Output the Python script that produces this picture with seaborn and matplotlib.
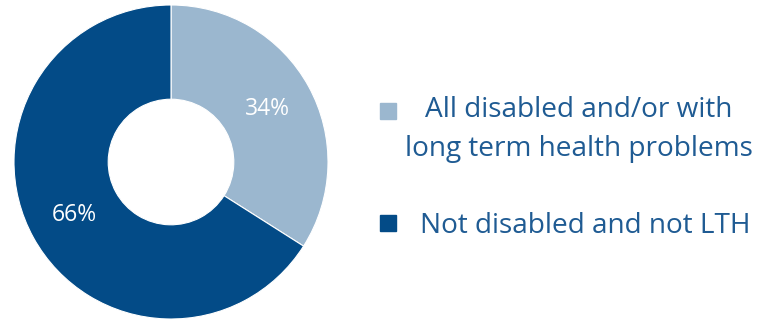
import matplotlib
matplotlib.use("Agg")
import matplotlib.pyplot as plt
import seaborn as sns
from matplotlib.lines import Line2D

categories = ["All disabled and/or with\nlong term health problems", "Not disabled and not LTH"]
values = [34, 66]
colors = ["#9bb7cf", "#034b87"]

sns.set_theme(style="white")
plt.rcParams['font.family'] = ['Open Sans', 'DejaVu Sans']

fig = plt.figure(figsize=(7.73, 3.22), dpi=100)
W, H = 773, 322
cx, cy, r = 171, 160, 157
ax = fig.add_axes([(cx - r) / W, (cy - r) / H, 2 * r / W, 2 * r / H])
wedges, texts, autotexts = ax.pie(
    values, colors=colors, startangle=90, counterclock=False,
    radius=1.0, wedgeprops=dict(width=0.6, edgecolor="white", linewidth=0.8),
    autopct=lambda p: f"{p:.0f}%", pctdistance=0.7,
    textprops=dict(color="white", fontsize=16.5))
ax.set_xlim(-1, 1)
ax.set_ylim(-1, 1)
ax.set_aspect("equal")
ax.axis("off")

fs = 20.2
handles = [Line2D([0], [0], marker="s", linestyle="none", markersize=12.2,
                  markerfacecolor=c, markeredgecolor=c) for c in colors]
leg = fig.legend(handles, categories, loc="upper left",
                 bbox_to_anchor=(374 / W, 1 - 96 / H), frameon=False,
                 fontsize=fs, labelcolor="#1f5b93", handletextpad=0.64,
                 labelspacing=1.75, handlelength=1.0, borderpad=0,
                 borderaxespad=0)
txts = leg.get_texts()
for t in txts:
    t.set_multialignment("center")
txts[0].set_linespacing(1.52)
# first entry: second line sticks out to the left, marker level with first line
txts[0].set_position((-15, 0))
h0 = leg.legend_handles[0]
h0.set_ydata([y + 13.7 for y in h0.get_ydata()])

fig.savefig("out.png", dpi=100)
